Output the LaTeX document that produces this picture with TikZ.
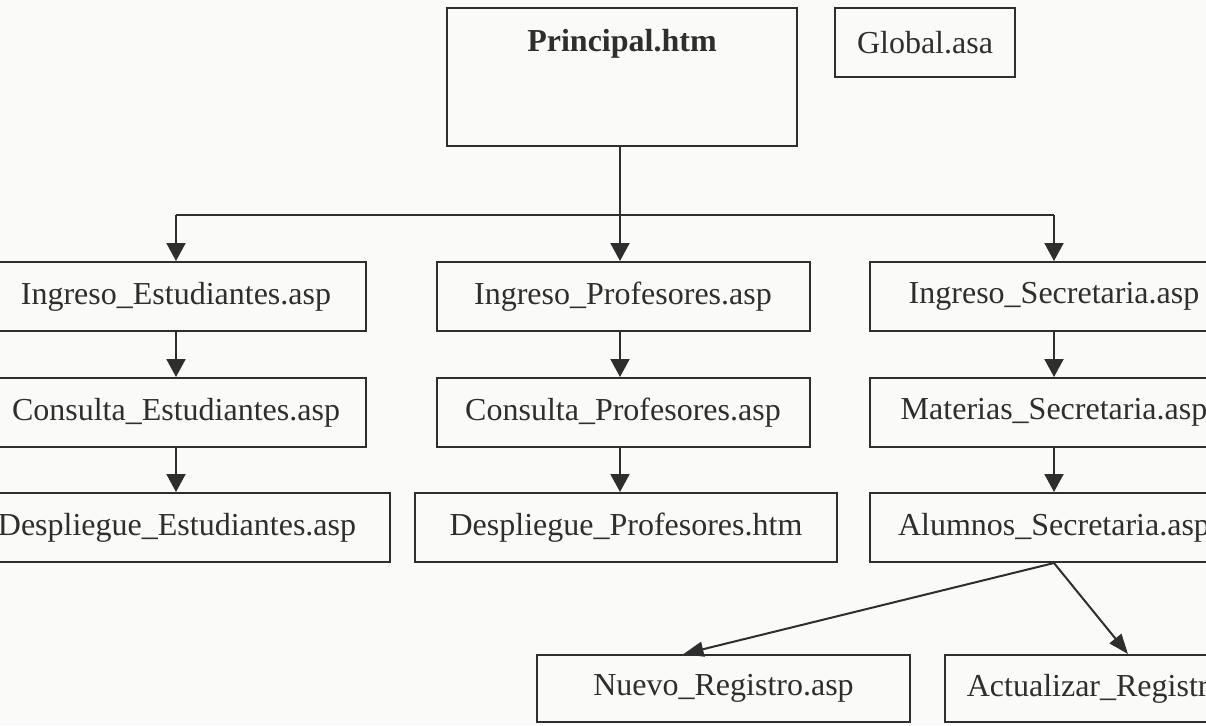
\documentclass[tikz,border=0pt]{standalone}
\usepackage{fontspec}
\setmainfont{Liberation Serif}
\usetikzlibrary{arrows.meta,calc}
\definecolor{ink}{HTML}{2E2E2E}
\definecolor{paper}{HTML}{FAFAF8}
\begin{document}
\begin{tikzpicture}[x=0.5pt,y=-0.5pt,
  filebox/.style={draw=ink,line width=1pt,rectangle,minimum height=34.5pt,
    inner sep=0pt,text=ink,font=\fontsize{16}{19}\selectfont},
  arr/.style={draw=ink,line width=1pt,-{Triangle[length=9pt,width=9.5pt]}},
  slant/.style={draw=ink,line width=1pt,-{Triangle[length=10pt,width=7.5pt]}},
  wire/.style={draw=ink,line width=1pt}]
\useasboundingbox (0,0) rectangle (1206,725);
\fill[paper] (0,0) rectangle (1206,725);
\clip (0,0) rectangle (1206,725);

% top level
\node[filebox,minimum width=175pt,minimum height=69pt,
  label={[anchor=center,yshift=-18.5pt,text=ink,font=\fontsize{16}{19}\selectfont\bfseries]north:Principal.htm}]
  (p) at (622,77) {};
\node[filebox,minimum width=90pt] (g) at (925,42.5) {Global.asa};

% student column
\node[filebox,minimum width=190pt] (ie) at (176,296.5) {Ingreso\_Estudiantes.asp};
\node[filebox,minimum width=190pt] (ce) at (176,412.5) {Consulta\_Estudiantes.asp};
\node[filebox,minimum width=213pt] (de) at (177,527.5) {Despliegue\_Estudiantes.asp};

% teacher column
\node[filebox,minimum width=186.5pt] (ip) at (623,296.5) {Ingreso\_Profesores.asp};
\node[filebox,minimum width=186.5pt] (cp) at (623,412.5) {Consulta\_Profesores.asp};
\node[filebox,minimum width=211pt] (dp) at (626,527.5) {Despliegue\_Profesores.htm};

% secretary column
\node[filebox,minimum width=184pt] (is) at (1054,296.5) {Ingreso\_Secretaria.asp};
\node[filebox,minimum width=184pt] (ms) at (1054,412.5) {Materias\_Secretaria.asp};
\node[filebox,minimum width=184pt] (as) at (1054,527.5) {Alumnos\_Secretaria.asp};

% record pages
\node[filebox,minimum width=186.5pt,minimum height=33.5pt] (nr) at (723.5,688.5) {Nuevo\_Registro.asp};
\node[filebox,minimum width=176pt,minimum height=33.5pt] (ar) at (1121,688.5) {Actualizar\_Registro.asp};

% distribution bus
\coordinate (bus) at (620,215);
\draw[wire] (ie.north |- bus) -- (is.north |- bus);
\draw[arr] (p.south -| bus) -- (ip.north -| bus);
\draw[arr] (ie.north |- bus) -- (ie.north);
\draw[arr] (is.north |- bus) -- (is.north);

% column chains
\draw[arr] (ie.south) -- (ce.north);
\draw[arr] (ce.south) -- (ce.south |- de.north);
\draw[arr] (ip.south -| bus) -- (cp.north -| bus);
\draw[arr] (cp.south -| bus) -- (dp.north -| bus);
\draw[arr] (is.south) -- (ms.north);
\draw[arr] (ms.south) -- (as.north);

% branches to record pages
\draw[slant] (as.south) -- ($(nr.north)+(-40,0)$);
\draw[slant] (as.south) -- ($(ar.north)+(7,0)$);
\end{tikzpicture}
\end{document}
